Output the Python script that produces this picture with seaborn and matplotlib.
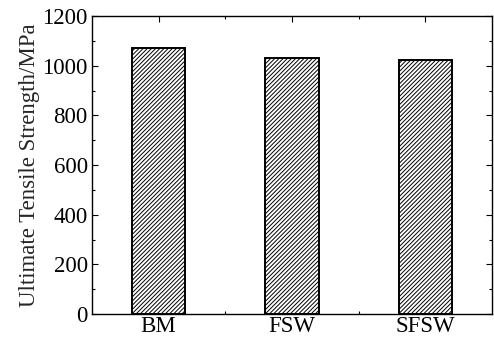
import pandas as pd
import matplotlib.pyplot as plt
import seaborn as sns
from matplotlib.ticker import MultipleLocator, FixedLocator

# Data
samples = ['BM', 'FSW', 'SFSW']
uts_mpa = [1071, 1031, 1024]

df = pd.DataFrame({'sample': samples, 'uts': uts_mpa})

sns.set_theme(style='ticks')
plt.rcParams['font.family'] = ['Liberation Serif', 'DejaVu Serif']
plt.rcParams['hatch.linewidth'] = 0.7
plt.rcParams['hatch.color'] = 'black'

fig, ax = plt.subplots(figsize=(4.94, 3.40), dpi=100)
sns.barplot(data=df, x='sample', y='uts', ax=ax, width=0.4,
            color='white', edgecolor='black', linewidth=1.4, hatch='////////')

ax.set_xlim(-0.5, 2.5)
ax.set_ylim(0, 1200)
ax.yaxis.set_major_locator(MultipleLocator(200))
ax.yaxis.set_minor_locator(MultipleLocator(100))
ax.xaxis.set_minor_locator(FixedLocator([0.5, 1.5]))
ax.tick_params(which='both', direction='in', top=True, right=True, labelsize=16.5, colors='black')
ax.tick_params(which='major', length=4, width=0.8)
ax.tick_params(which='minor', length=2.5, width=0.8)
ax.tick_params(axis='x', which='major', pad=1)
ax.tick_params(axis='y', which='major', pad=3)
for s in ax.spines.values():
    s.set_linewidth(1.0)
    s.set_color('black')

ax.set_xlabel('')
ax.set_ylabel('Ultimate Tensile Strength/MPa', fontsize=16.5, labelpad=2)

plt.subplots_adjust(left=0.186, right=0.996, top=0.953, bottom=0.076)
plt.savefig('out.png', dpi=100)
